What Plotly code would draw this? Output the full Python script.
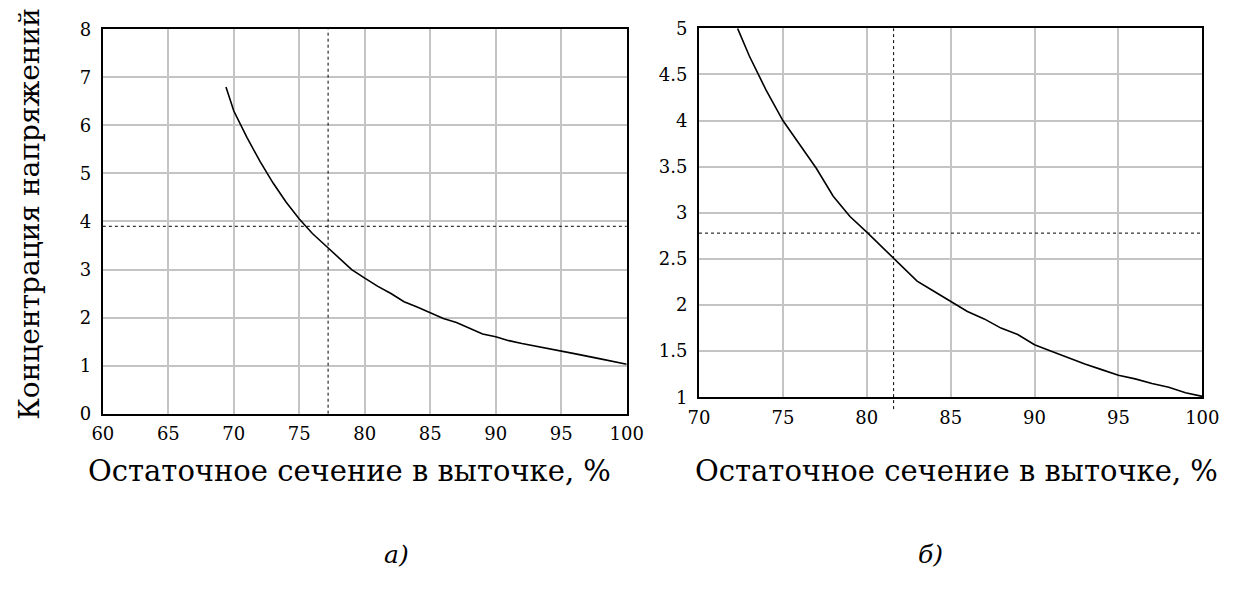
import plotly.graph_objects as go

# ---- data: chart a) ----
xa = [69.4, 70, 71, 72, 73, 74, 75, 76, 77, 78, 79, 80, 81, 82, 83, 84, 85, 86,
      87, 88, 89, 90, 91, 92, 94, 96, 98, 100]
ya = [6.8, 6.3, 5.75, 5.25, 4.8, 4.4, 4.05, 3.75, 3.5, 3.25, 3.0, 2.82, 2.65, 2.5,
      2.33, 2.22, 2.1, 1.98, 1.9, 1.78, 1.66, 1.6, 1.52, 1.46, 1.36, 1.25, 1.14, 1.03]
ref_a_x = 77.2
ref_a_y = 3.9

# ---- data: chart б) ----
xb = [72.3, 73, 74, 75, 76, 77, 78, 79, 80, 81, 82, 83, 84, 85, 86, 87, 88, 89,
      90, 91, 92, 93, 94, 95, 96, 97, 98, 99, 100]
yb = [5.0, 4.7, 4.33, 4.0, 3.74, 3.48, 3.18, 2.96, 2.79, 2.61, 2.43, 2.26, 2.15,
      2.04, 1.93, 1.85, 1.75, 1.68, 1.57, 1.50, 1.43, 1.36, 1.30, 1.24, 1.20, 1.15,
      1.11, 1.05, 1.01]
ref_b_x = 81.6
ref_b_y = 2.78

xticks_a = [60, 65, 70, 75, 80, 85, 90, 95, 100]
yticks_a = [0, 1, 2, 3, 4, 5, 6, 7, 8]
xticks_b = [70, 75, 80, 85, 90, 95, 100]
yticks_b = [1, 1.5, 2, 2.5, 3, 3.5, 4, 4.5, 5]
yticktext_b = ["1", "1.5", "2", "2.5", "3", "3.5", "4", "4.5", "5"]

x_title = "Остаточное сечение в выточке, %"
y_title = "Концентрация напряжений"
labels = ["а)", "б)"]

# figure is 16 px smaller than the window: the page body keeps an 8 px margin
W, H = 1232, 573
OFF = 8
FONT = "DejaVu Serif"


def px(v):
    return (v - OFF) / W


def py(v):
    return 1 - (v - OFF) / H


fig = go.Figure()
fig.add_trace(go.Scatter(x=xa, y=ya, mode="lines", line=dict(color="black", width=1.6),
                         xaxis="x", yaxis="y", showlegend=False, hoverinfo="skip"))
fig.add_trace(go.Scatter(x=xb, y=yb, mode="lines", line=dict(color="black", width=1.6),
                         xaxis="x2", yaxis="y2", showlegend=False, hoverinfo="skip"))

axis_common = dict(showline=True, mirror=True, linecolor="black", linewidth=2,
                   showgrid=True, gridcolor="#c4c4c4", gridwidth=1.6, zeroline=False,
                   ticks="", tickfont=dict(family=FONT, size=18, color="black"))

fig.update_layout(
    width=W, height=H, margin=dict(l=0, r=0, t=0, b=0, pad=0),
    paper_bgcolor="white", plot_bgcolor="white", showlegend=False,
    font=dict(family=FONT, color="black"),
    xaxis=dict(domain=[px(102), px(638)], range=[60, 100], tickvals=xticks_a,
               anchor="y", ticklabelstandoff=3, **axis_common),
    yaxis=dict(domain=[py(426), py(27)], range=[0, 8], tickvals=yticks_a,
               anchor="x", ticklabelstandoff=6, **axis_common),
    xaxis2=dict(domain=[px(712), px(1227)], range=[70, 100], tickvals=xticks_b,
                anchor="y2", ticklabelstandoff=3, **axis_common),
    yaxis2=dict(domain=[py(409), py(26)], range=[1, 5], tickvals=yticks_b,
                ticktext=yticktext_b, anchor="x2", ticklabelstandoff=6, **axis_common),
)

dash_line = dict(color="black", width=1, dash="3px,3px")
fig.add_shape(type="line", xref="x", yref="y domain", x0=ref_a_x, x1=ref_a_x, y0=0, y1=1,
              line=dash_line, layer="above")
fig.add_shape(type="line", xref="x domain", yref="y", x0=0, x1=1, y0=ref_a_y, y1=ref_a_y,
              line=dash_line, layer="above")
fig.add_shape(type="line", xref="x2", yref="y2 domain", x0=ref_b_x, x1=ref_b_x, y0=-0.032, y1=1,
              line=dash_line, layer="above")
fig.add_shape(type="line", xref="x2 domain", yref="y2", x0=0, x1=1, y0=ref_b_y, y1=ref_b_y,
              line=dash_line, layer="above")

title_font = dict(family=FONT, size=29, color="black")
fig.add_annotation(text=x_title, xref="paper", yref="paper", x=px(354), y=py(486),
                   showarrow=False, font=title_font, xanchor="center", yanchor="middle")
fig.add_annotation(text=x_title, xref="paper", yref="paper", x=px(975), y=py(486),
                   showarrow=False, font=title_font, xanchor="center", yanchor="middle")
fig.add_annotation(text=y_title, xref="paper", yref="paper", x=px(27), y=py(219),
                   showarrow=False, font=dict(family=FONT, size=28, color="black"),
                   textangle=-90, xanchor="center", yanchor="middle")
lab_font = dict(family=FONT, size=25, color="black")
fig.add_annotation(text="<i>" + labels[0] + "</i>", xref="paper", yref="paper",
                   x=px(388), y=py(572), showarrow=False, yanchor="middle", font=lab_font)
fig.add_annotation(text="<i>" + labels[1] + "</i>", xref="paper", yref="paper",
                   x=px(964), y=py(572), showarrow=False, yanchor="middle", font=lab_font)

fig.write_html("out.html")
